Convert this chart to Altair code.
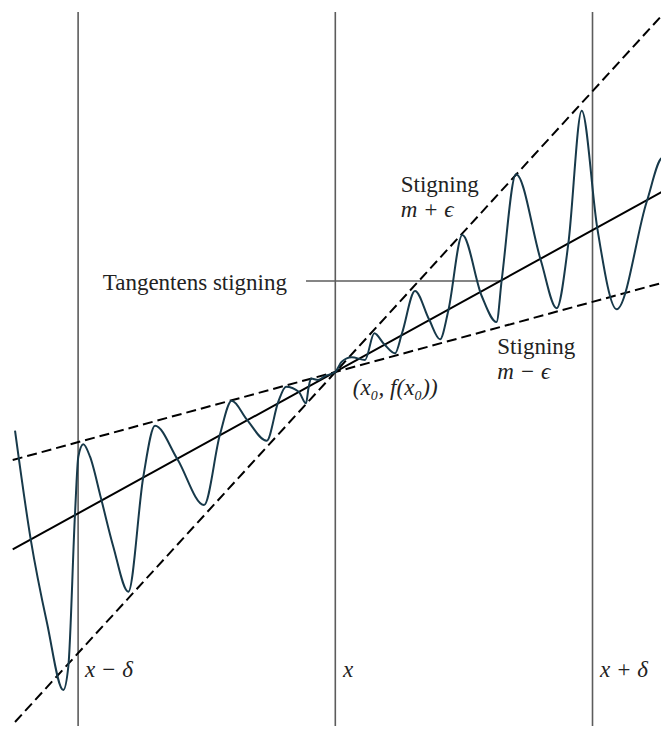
import altair as alt
import pandas as pd

# ---- data (units: x0 = 0, delta = 1) ----
curve_x = [-1.2453, -1.1843, -1.1209, -1.0575, -1.0381, -1.0121, -0.9992, -0.9798,
           -0.9537, -0.9110, -0.8631, -0.8048, -0.7465, -0.7010, -0.6143, -0.5105,
           -0.4483, -0.4028, -0.3445, -0.2667, -0.2216, -0.1917, -0.1423, -0.1139,
           -0.1042, -0.0945, -0.0673, -0.0400, 0.0,
           0.0249, 0.0638, 0.1155, 0.1516, 0.1893, 0.2321, 0.2593, 0.3099, 0.3643,
           0.4071, 0.4393, 0.4938, 0.5692, 0.6268, 0.6470, 0.7026, 0.7986, 0.8608,
           0.9059, 0.9580, 1.0187, 1.0941, 1.2107, 1.2729, 1.2974]
curve_y = [-0.2282, -0.6505, -0.9759, -1.2364, -1.1458, -0.5521, -0.3293, -0.2811,
           -0.3293, -0.4911, -0.6792, -0.8542, -0.4071, -0.2088, -0.3383, -0.5171,
           -0.2422, -0.1116, -0.1839, -0.2671, -0.1155, -0.0572, -0.0766, -0.1217,
           -0.0622, -0.0253, -0.0311, -0.0156, 0.0,
           0.0400, 0.0572, 0.0467, 0.1505, 0.1089, 0.0727, 0.1505, 0.3149, 0.2049,
           0.1271, 0.2383, 0.5327, 0.2955, 0.1944, 0.3577, 0.7687, 0.4355, 0.2477,
           0.4977, 1.0159, 0.5587, 0.2438, 0.6621, 0.8332, 0.7982]

# straight lines: (x1, y1, x2, y2)
tangent = [-1.2543, -0.6897, 1.2974, 0.7154]
upper_dashed = [-1.2453, -1.3608, 1.2819, 1.3997]
lower_dashed = [-1.2543, -0.3421, 1.2974, 0.3538]
vlines_x = [-1.0, 0.0, 1.0]
vline_top, vline_bottom = 1.3997, -1.45
hline = [-0.1139, 0.3538, 0.6442, 0.3538]

labels_text = ["Stigning", "Stigning"]
labels_x = [0.2543, 0.6299]
labels_y = [0.7010, 0.0700]
math_text = ["m + ϵ", "m − ϵ", "(x₀, f(x₀))", "x − δ", "x", "x + δ"]
math_x = [0.2543, 0.6299, 0.0677, -0.9732, 0.0299, 1.0292]
math_y = [0.6038, -0.0272, -0.0894, -1.1858, -1.1858, -1.1858]
tang_label = "Tangentens stigning"
tang_x, tang_y = -0.1878, 0.3188

X_DOMAIN = [-1.2726, 1.2663]
Y_DOMAIN = [-1.3763, 1.4152]
W, H = 653, 718

xs = alt.Scale(domain=X_DOMAIN, nice=False, zero=False)
ys = alt.Scale(domain=Y_DOMAIN, nice=False, zero=False)
X = lambda f: alt.X(f, type="quantitative", scale=xs, axis=None)
Y = lambda f: alt.Y(f, type="quantitative", scale=ys, axis=None)

FONT = "Liberation Serif, Times New Roman, serif"
GRAY = "#5c5c5c"

vdf = pd.DataFrame({"x": vlines_x, "y": [vline_top] * 3, "y2": [vline_bottom] * 3})
vrules = alt.Chart(vdf).mark_rule(color=GRAY, strokeWidth=1.6, clip=True).encode(
    x=X("x"), y=Y("y"), y2="y2")

hdf = pd.DataFrame({"x": [hline[0]], "y": [hline[1]], "x2": [hline[2]], "y2": [hline[3]]})
hrule = alt.Chart(hdf).mark_rule(color=GRAY, strokeWidth=1.6, clip=True).encode(
    x=X("x"), y=Y("y"), x2="x2", y2="y2")

ddf = pd.DataFrame([upper_dashed, lower_dashed], columns=["x", "y", "x2", "y2"])
dashed = alt.Chart(ddf).mark_rule(color="black", strokeWidth=2, strokeDash=[10, 5], clip=True).encode(
    x=X("x"), y=Y("y"), x2="x2", y2="y2")

tdf = pd.DataFrame([tangent], columns=["x", "y", "x2", "y2"])
tline = alt.Chart(tdf).mark_rule(color="black", strokeWidth=2, clip=True).encode(
    x=X("x"), y=Y("y"), x2="x2", y2="y2")

cdf = pd.DataFrame({"x": curve_x, "y": curve_y})
curve = alt.Chart(cdf).mark_line(color="#17394a", strokeWidth=2, interpolate="monotone", clip=True).encode(
    x=X("x"), y=Y("y"))

ldf = pd.DataFrame({"t": labels_text, "x": labels_x, "y": labels_y})
labels = alt.Chart(ldf).mark_text(font=FONT, fontSize=23, align="left", baseline="alphabetic",
                                  color="#222222").encode(x=X("x"), y=Y("y"), text="t")

mdf = pd.DataFrame({"t": math_text, "x": math_x, "y": math_y})
maths = alt.Chart(mdf).mark_text(font=FONT, fontSize=23, fontStyle="italic", align="left",
                                 baseline="alphabetic", color="#222222").encode(
    x=X("x"), y=Y("y"), text="t")

tldf = pd.DataFrame({"t": [tang_label], "x": [tang_x], "y": [tang_y]})
tlab = alt.Chart(tldf).mark_text(font=FONT, fontSize=23, align="right", baseline="alphabetic",
                                 color="#222222").encode(x=X("x"), y=Y("y"), text="t")

chart = alt.layer(vrules, hrule, dashed, tline, curve, labels, maths, tlab).properties(
    width=W, height=H, padding=0, autosize=alt.AutoSizeParams(type="none")
).configure_view(stroke=None)

chart.save("out.html", embed_options={"renderer": "svg", "actions": False})
